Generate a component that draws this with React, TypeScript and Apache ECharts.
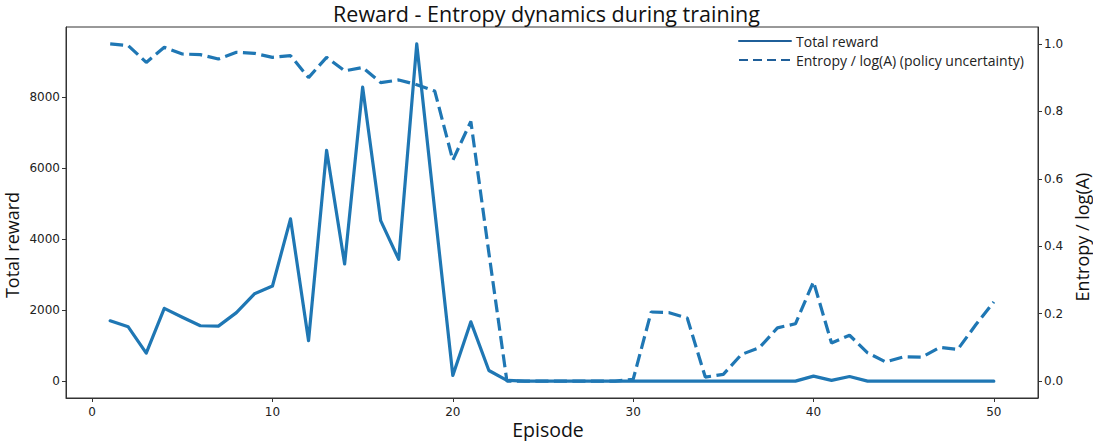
import React, { useEffect, useRef } from "react";
import * as echarts from "echarts";

const episodes = [
  1, 2, 3, 4, 5, 6, 7, 8, 9, 10, 11, 12, 13, 14, 15, 16, 17, 18, 19, 20, 21, 22, 23, 24, 25,
  26, 27, 28, 29, 30, 31, 32, 33, 34, 35, 36, 37, 38, 39, 40, 41, 42, 43, 44, 45, 46, 47, 48, 49, 50,
];

const totalReward = [
  1700, 1530, 790, 2050, 1800, 1560, 1550, 1930, 2460, 2680,
  4570, 1140, 6500, 3300, 8280, 4520, 3430, 9500, 4800, 160,
  1670, 300, 20, 0, 0, 0, 0, 0, 0, 0,
  0, 0, 0, 0, 0, 0, 0, 0, 0, 140,
  20, 130, 0, 0, 0, 0, 0, 0, 0, 0,
];

const entropyNorm = [
  1.0, 0.995, 0.945, 0.99, 0.97, 0.968, 0.955, 0.975, 0.972, 0.96,
  0.965, 0.9, 0.96, 0.92, 0.93, 0.885, 0.893, 0.879, 0.86, 0.655,
  0.77, 0.38, 0.0, 0.0, 0.0, 0.0, 0.0, 0.0, 0.0, 0.005,
  0.205, 0.203, 0.187, 0.012, 0.02, 0.079, 0.099, 0.158, 0.17, 0.295,
  0.113, 0.136, 0.084, 0.057, 0.072, 0.071, 0.1, 0.094, 0.167, 0.235,
];

const xTicks = [0, 10, 20, 30, 40, 50];
const rewardTicks = [0, 2000, 4000, 6000, 8000];
const entropyTicks = [0, 0.2, 0.4, 0.6, 0.8, 1.0];

const COLOR = "#1f77b4";
const LEGEND_COLOR = "#1f5f99";
const TICK_FONT = "DejaVu Sans";
const LABEL_FONT = "Open Sans";

export default function App() {
  const ref = useRef<HTMLDivElement>(null);

  useEffect(() => {
    if (!ref.current) return;
    const chart = echarts.init(ref.current, null, { renderer: "svg" });

    const axisLine = { show: true, onZero: false, lineStyle: { color: "#333", width: 1 } };
    const tick = { show: true, length: 4, lineStyle: { color: "#333", width: 1 } };
    const labelStyle = { fontFamily: TICK_FONT, fontSize: 12, color: "#222" };

    const labelText = (text: string, x: number, y: number, rotate: boolean, size: number) => ({
      type: "text",
      x,
      y,
      rotation: rotate ? Math.PI / 2 : 0,
      style: {
        text,
        fontFamily: LABEL_FONT,
        fontSize: size,
        fill: "#111",
        align: "center",
        verticalAlign: "middle",
      },
    });

    chart.setOption({
      animation: false,
      backgroundColor: "#fff",
      title: {
        text: "Reward - Entropy dynamics during training",
        left: "center",
        top: -3,
        textStyle: { fontFamily: LABEL_FONT, fontSize: 21.5, fontWeight: "normal", color: "#111" },
      },
      legend: {
        orient: "vertical",
        left: 738,
        top: 34,
        padding: 0,
        itemWidth: 52,
        itemHeight: 14,
        itemGap: 5,
        itemStyle: { opacity: 0 },
        textStyle: { fontFamily: LABEL_FONT, fontSize: 14, color: "#222" },
        data: [
          {
            name: "Total reward",
            itemStyle: { opacity: 0 },
            lineStyle: { color: LEGEND_COLOR, width: 2, type: "solid" },
          },
          {
            name: "Entropy / log(A) (policy uncertainty)",
            itemStyle: { opacity: 0 },
            lineStyle: { color: LEGEND_COLOR, width: 2, type: [9, 5] },
          },
        ],
      },
      grid: {
        left: 66,
        top: 27,
        right: 55,
        bottom: 43,
        show: true,
        borderColor: "#333",
        borderWidth: 1,
        containLabel: false,
      },
      xAxis: {
        type: "value",
        min: -1.45,
        max: 52.45,
        axisLine,
        splitLine: { show: false },
        axisTick: { ...tick, customValues: xTicks },
        axisLabel: { ...labelStyle, customValues: xTicks, margin: 8 },
      },
      yAxis: [
        {
          type: "value",
          min: -475,
          max: 9975,
          axisLine,
          splitLine: { show: false },
          axisTick: { ...tick, customValues: rewardTicks },
          axisLabel: {
            ...labelStyle,
            customValues: rewardTicks,
            margin: 6,
            formatter: (v: number) => String(v),
          },
        },
        {
          type: "value",
          position: "right",
          min: -0.05,
          max: 1.05,
          axisLine,
          splitLine: { show: false },
          axisTick: { ...tick, customValues: entropyTicks },
          axisLabel: {
            ...labelStyle,
            customValues: entropyTicks,
            margin: 6,
            formatter: (v: number) => v.toFixed(1),
          },
        },
      ],
      series: [
        {
          name: "Total reward",
          type: "line",
          yAxisIndex: 0,
          data: episodes.map((e, i) => [e, totalReward[i]]),
          showSymbol: false,
          symbol: "none",
          lineStyle: { color: COLOR, width: 3.2, join: "round", cap: "round" },
          itemStyle: { color: COLOR },
        },
        {
          name: "Entropy / log(A) (policy uncertainty)",
          type: "line",
          yAxisIndex: 1,
          data: episodes.map((e, i) => [e, entropyNorm[i]]),
          showSymbol: false,
          symbol: "none",
          lineStyle: { color: COLOR, width: 3.2, type: [13, 5.5] },
          itemStyle: { color: COLOR },
        },
      ],
      graphic: [
        labelText("Total reward", 12, 245, true, 18),
        labelText("Entropy / log(A)", 1082, 237, true, 18),
        labelText("Episode", 548, 429, false, 19.5),
      ],
    });

    return () => chart.dispose();
  }, []);

  return (
    <div
      ref={ref}
      style={{ position: "fixed", left: 0, top: 0, width: 1093, height: 441 }}
    />
  );
}
